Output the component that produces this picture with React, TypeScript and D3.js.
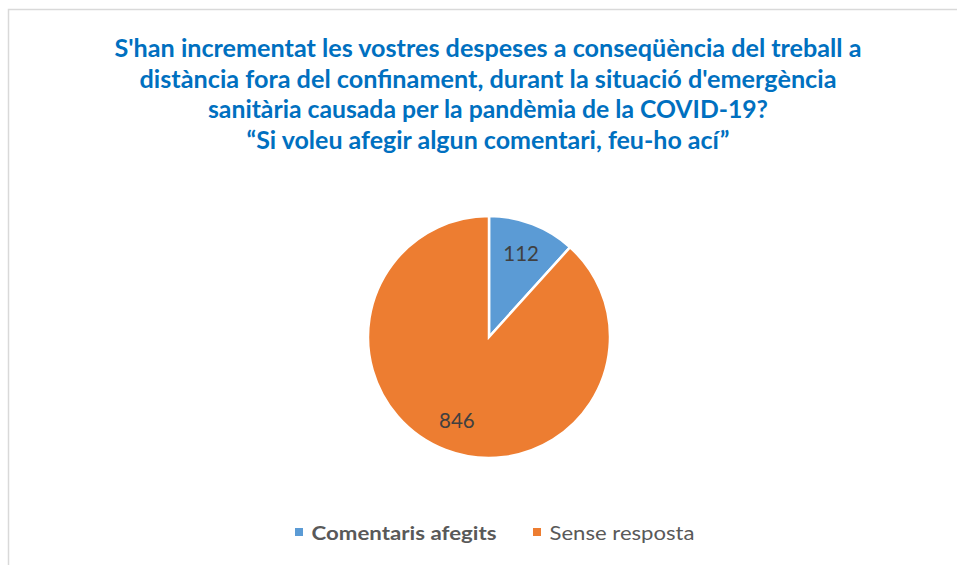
import * as d3 from "d3";

// data
const categories = ["Comentaris afegits", "Sense resposta"];
const values = [112, 846];
const colors = ["#5B9BD5", "#ED7D31"];

const titleLines = [
  "S'han incrementat les vostres despeses a conseqüència del treball a",
  "distància fora del confinament, durant la situació d'emergència",
  "sanitària causada per la pandèmia de la COVID-19?",
  "\u201CSi voleu afegir algun comentari, feu-ho ací\u201D",
];
const titleWidths = [747, 697, 560, 483];

const width = 957;
const height = 565;
const cx = 489;
const cy = 337;
const radius = 121;

export default function App() {
  const pie = d3
    .pie<number>()
    .sort(null)
    .startAngle(0)
    .endAngle(2 * Math.PI);
  const arcs = pie(values);
  const arc = d3.arc<d3.PieArcDatum<number>>().innerRadius(0).outerRadius(radius);
  const labelArc = d3
    .arc<d3.PieArcDatum<number>>()
    .innerRadius(radius * 0.74)
    .outerRadius(radius * 0.74);

  const legendX = d3.scaleOrdinal<string, number>().domain(categories).range([295, 533]);
  const legendW = [185, 145];

  return (
    <svg
      width={width}
      height={height}
      style={{ position: "absolute", left: 0, top: 0, background: "#fff" }}
      fontFamily="Lato, 'Open Sans', sans-serif"
    >
      <rect x={8.5} y={9.5} width={980} height={600} fill="#fff" stroke="#d9d9d9" strokeWidth={1.5} />

      <g fill="#0070C0" fontWeight="bold" fontSize={24.5} textAnchor="middle">
        {titleLines.map((t, i) => (
          <text
            key={i}
            x={488}
            y={57 + i * 30.5}
            textLength={titleWidths[i]}
            lengthAdjust="spacingAndGlyphs"
          >
            {t}
          </text>
        ))}
      </g>

      <g transform={`translate(${cx},${cy})`}>
        {arcs.map((a, i) => (
          <path key={i} d={arc(a) ?? ""} fill={colors[i]} stroke="#fff" strokeWidth={2.5} />
        ))}
        {arcs.map((a, i) => {
          const [lx, ly] = labelArc.centroid(a);
          return (
            <text
              key={i}
              x={lx}
              y={ly}
              dy="0.35em"
              textAnchor="middle"
              fontSize={20.5}
              fill="#404040"
            >
              {values[i]}
            </text>
          );
        })}
      </g>

      <g>
        {categories.map((c, i) => (
          <g key={c}>
            <rect x={legendX(c)} y={528} width={8} height={8} fill={colors[i]} />
            <text
              x={legendX(c) + 16.5}
              y={540}
              fontSize={19.5}
              fill="#595959"
              fontWeight={i === 0 ? "bold" : "normal"}
              textLength={legendW[i]}
              lengthAdjust="spacingAndGlyphs"
            >
              {c}
            </text>
          </g>
        ))}
      </g>
    </svg>
  );
}
